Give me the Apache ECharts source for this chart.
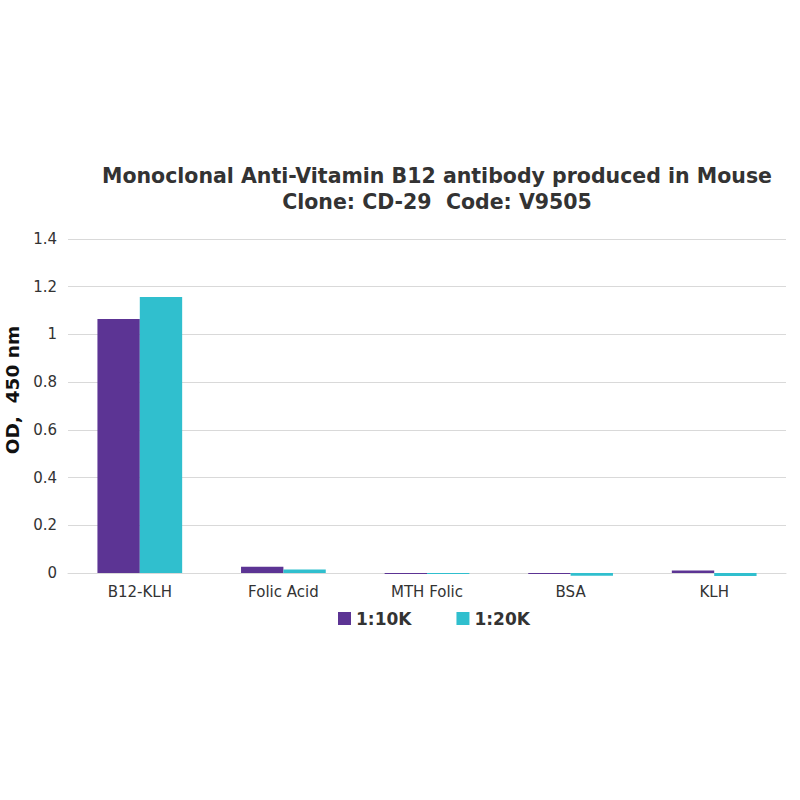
<!DOCTYPE html>
<html>
<head>
<meta charset="utf-8">
<script src="https://cdn.jsdelivr.net/npm/echarts@6/dist/echarts.min.js"></script>
<style>
  html, body { margin: 0; padding: 0; background: #fff; }
  #chart { width: 800px; height: 800px; }
</style>
</head>
<body>
<div id="chart"></div>
<script>
  // 数据
  const categories = ['B12-KLH', 'Folic Acid', 'MTH Folic', 'BSA', 'KLH'];
  const seriesNames = ['1:10K', '1:20K'];
  const values10K = [1.065, 0.026, -0.004, -0.004, 0.01];
  const values20K = [1.157, 0.015, -0.004, -0.012, -0.013];
  const yTicks = [0, 0.2, 0.4, 0.6, 0.8, 1, 1.2, 1.4];

  const colors = { purple: '#5C3494', cyan: '#30BFCE', ink: '#333333', rule: '#D9D9D9' };
  const font = '"DejaVu Sans", Verdana, sans-serif';

  const chart = echarts.init(document.getElementById('chart'), null, { renderer: 'svg' });

  chart.setOption({
    animation: false,
    textStyle: { fontFamily: font },
    title: {
      text: 'Monoclonal Anti-Vitamin B12 antibody produced in Mouse\nClone: CD-29  Code: V9505',
      left: 432,
      top: 158,
      textAlign: 'center',
      textStyle: { fontFamily: font, fontSize: 20.5, fontWeight: 'bold', color: colors.ink, lineHeight: 26 }
    },
    legend: {
      data: seriesNames,
      left: 338,
      top: 610,
      itemWidth: 13,
      itemHeight: 13,
      itemGap: 45,
      icon: 'rect',
      textStyle: { fontFamily: font, fontSize: 17, fontWeight: 'bold', color: colors.ink },
      padding: 0
    },
    grid: { left: 68, right: 14, top: 239, bottom: 227, containLabel: false, outerBoundsMode: 'none' },
    xAxis: {
      type: 'category',
      data: categories,
      axisLine: { show: true, lineStyle: { color: colors.rule } },
      axisTick: { show: false },
      axisLabel: { color: colors.ink, fontSize: 15, margin: 11, fontFamily: font }
    },
    yAxis: {
      type: 'value',
      min: yTicks[0],
      max: yTicks[yTicks.length - 1],
      interval: 0.2,
      name: 'OD,  450 nm',
      nameLocation: 'middle',
      nameGap: 45,
      nameTextStyle: { fontFamily: font, fontSize: 18.5, fontWeight: 'bold', color: '#111', padding: [0, 0, 0, 32] },
      axisLine: { show: false },
      axisTick: { show: false },
      splitLine: { lineStyle: { color: colors.rule } },
      axisLabel: { color: colors.ink, fontSize: 15, margin: 11, fontFamily: font }
    },
    series: [
      {
        name: seriesNames[0],
        type: 'bar',
        data: values10K,
        itemStyle: { color: colors.purple },
        barGap: '0%',
        barCategoryGap: '41%',
        clip: false
      },
      {
        name: seriesNames[1],
        type: 'bar',
        data: values20K,
        itemStyle: { color: colors.cyan },
        clip: false
      }
    ]
  });
</script>
</body>
</html>
